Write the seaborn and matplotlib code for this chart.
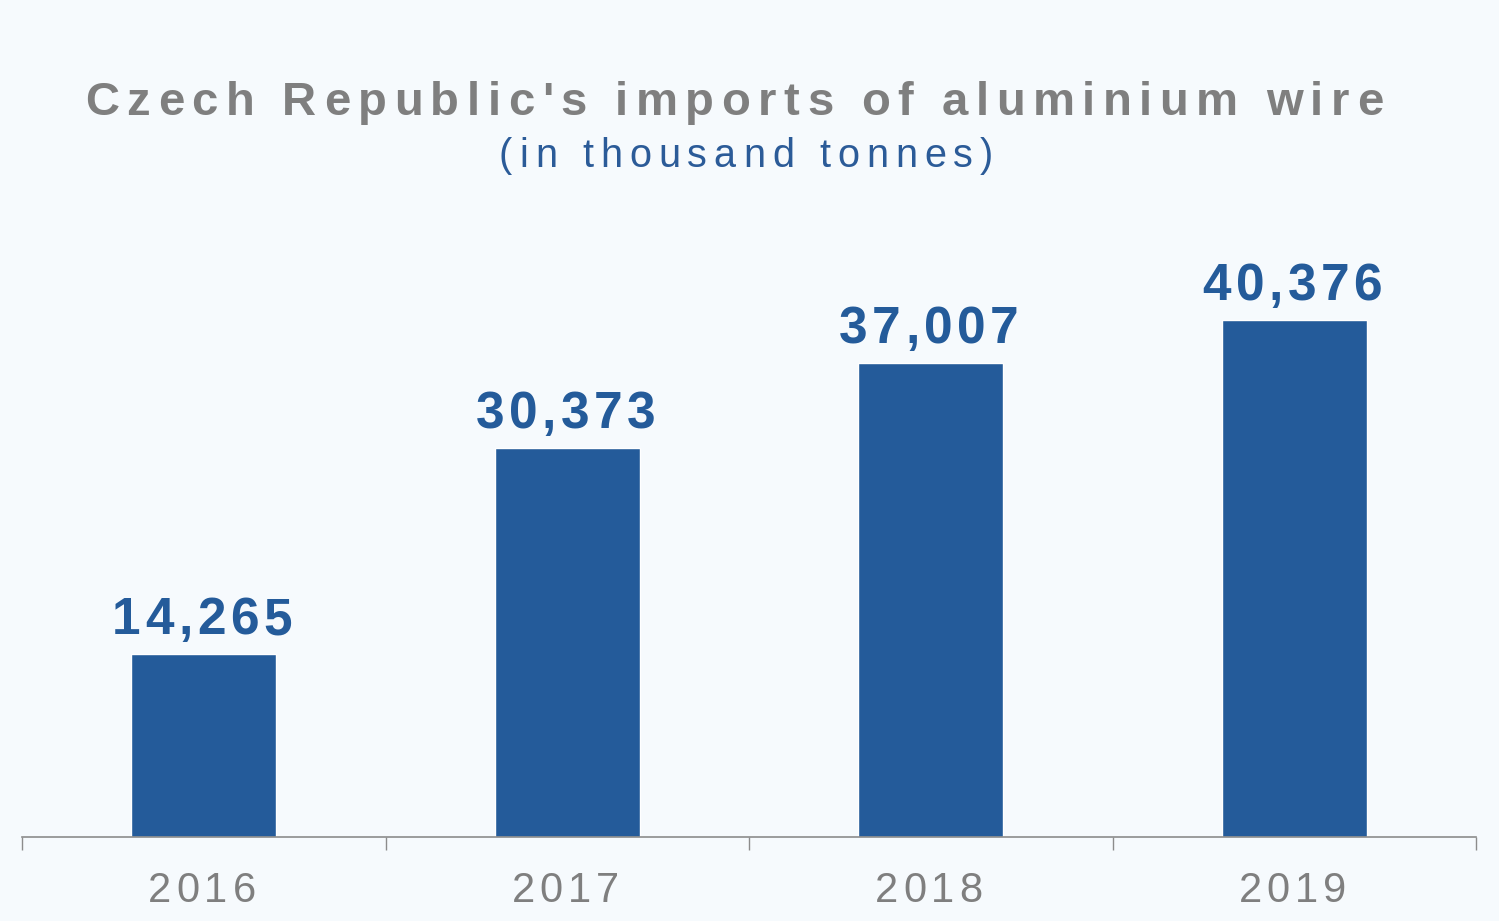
import numpy as np
import pandas as pd
import seaborn as sns
import matplotlib.pyplot as plt
from matplotlib.font_manager import FontProperties, findfont, get_font

# Chart data
years = ['2016', '2017', '2018', '2019']
imports = [14265, 30373, 37007, 40376]
value_labels = ['14,265', '30,373', '37,007', '40,376']

title = "Czech Republic's imports of aluminium wire"
subtitle = '(in thousand tonnes)'

bar_color = '#245b9a'
grey = '#7f7f7f'
bg = '#f6fafd'

sns.set_style('white')
plt.rcParams['font.family'] = ['Liberation Sans', 'DejaVu Sans']

fig = plt.figure(figsize=(14.99, 9.21), dpi=100, facecolor=bg)
ax = fig.add_axes([22 / 1499, 84 / 921, 1454 / 1499, 637 / 921])
ax.set_facecolor(bg)

df = pd.DataFrame({'year': years, 'imports': imports})
sns.barplot(data=df, x='year', y='imports', color=bar_color, saturation=1,
            width=0.4, ax=ax)

ax.set_xlim(-0.5, 3.5)
ax.set_ylim(0, 49750)
ax.set_xlabel('')
ax.set_ylabel('')
ax.set_yticks([])
for side in ['top', 'left', 'right']:
    ax.spines[side].set_visible(False)
ax.spines['bottom'].set_color('#8c8c8c')
ax.spines['bottom'].set_linewidth(1.2)

# category separators below the axis
ax.set_xticks(np.arange(-0.5, 4, 1), minor=True)
ax.tick_params(axis='x', which='minor', bottom=True, length=9.5, width=1,
               color='#8c8c8c', direction='out')
ax.tick_params(axis='x', which='major', length=0, labelbottom=False)


def spaced_text(s, xy, xycoords, dy, tracking, size, weight, color, dx=0):
    # draw a string one character at a time to get the wide letter spacing
    prop = FontProperties(family='Liberation Sans', size=size, weight=weight)
    font = get_font(findfont(prop))
    font.set_size(size, fig.dpi)
    adv = [font.load_char(ord(c)).linearHoriAdvance / 65536 for c in s]
    total = sum(adv) + tracking * (len(s) - 1)
    x = -total / 2 + dx
    for c, a in zip(s, adv):
        ax.annotate(c, xy=xy, xycoords=xycoords, xytext=(x, dy),
                    textcoords='offset pixels', ha='left', va='baseline',
                    fontproperties=prop, color=color, annotation_clip=False)
        x += a + tracking


# year labels under the axis
for i, yr in enumerate(years):
    spaced_text(yr, (i, 0), ('data', 'axes fraction'), -65, 5, 30, 'normal', grey, dx=-2)

# value labels on top of bars
for i, (v, lab) in enumerate(zip(imports, value_labels)):
    spaced_text(lab, (i, v), 'data', 20, 4.5, 37, 'bold', bar_color, dx=-2)

# title and subtitle
spaced_text(title, (734, 921 - 115), 'figure pixels', 0, 7.5, 34, 'bold', grey)
spaced_text(subtitle, (746, 921 - 167), 'figure pixels', 0, 7, 28.5, 'normal', '#2b5b98')

fig.savefig('out.png', dpi=100, facecolor=bg)
